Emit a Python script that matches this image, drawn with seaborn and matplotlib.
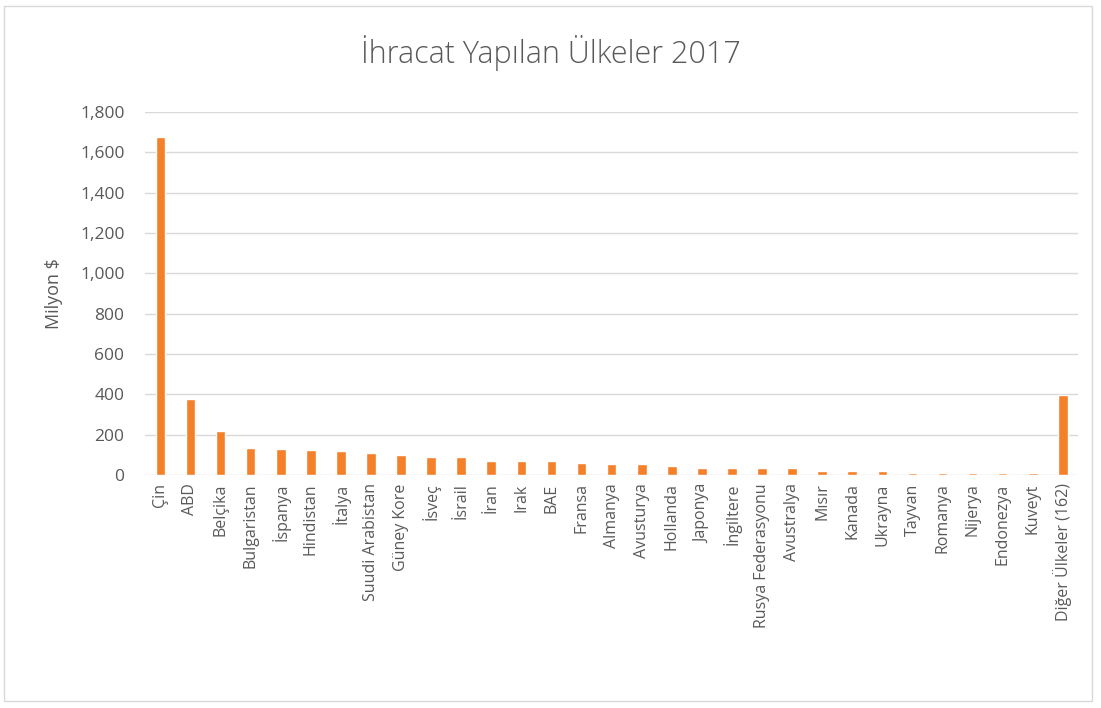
import matplotlib
matplotlib.use("Agg")
import matplotlib.pyplot as plt
import seaborn as sns
import pandas as pd
from matplotlib.patches import Rectangle
from matplotlib.ticker import FuncFormatter

countries = ["Çin", "ABD", "Belçika", "Bulgaristan", "İspanya", "Hindistan", "İtalya",
             "Suudi Arabistan", "Güney Kore", "İsveç", "İsrail", "İran", "Irak", "BAE",
             "Fransa", "Almanya", "Avusturya", "Hollanda", "Japonya", "İngiltere",
             "Rusya Federasyonu", "Avustralya", "Mısır", "Kanada", "Ukrayna", "Tayvan",
             "Romanya", "Nijerya", "Endonezya", "Kuveyt", "Diğer Ülkeler (162)"]
values = [1677, 375, 216, 132, 131, 122, 121, 110, 99, 89, 89, 69, 69, 69,
          58, 57, 56, 43, 33, 33, 33, 33, 21, 21, 21, 11, 11, 11, 11, 11, 395]
yticks = [0, 200, 400, 600, 800, 1000, 1200, 1400, 1600, 1800]

df = pd.DataFrame({"country": countries, "value": values})

sns.set_theme(style="white")
plt.rcParams['font.family'] = ['Open Sans', 'DejaVu Sans']

fig = plt.figure(figsize=(11.01, 7.08), dpi=100)
ax = fig.add_axes([0.132, 0.329, 0.847, 0.513])

sns.barplot(data=df, x="country", y="value", color="#F5802A", width=0.32,
            saturation=1, ax=ax, zorder=3)

ax.set_ylim(0, 1800)
ax.set_yticks(yticks)
ax.yaxis.set_major_formatter(FuncFormatter(lambda v, p: f"{int(v):,}"))
ax.set_xlim(-0.5, len(countries) - 0.5)
ax.grid(axis="y", color="#D9D9D9", linewidth=1, zorder=0)
for s in ax.spines.values():
    s.set_visible(False)
ax.tick_params(axis="both", length=0, colors="#595959")
ax.tick_params(axis="x", pad=6, labelsize=11.5)
ax.tick_params(axis="y", pad=15, labelsize=12.5)
plt.setp(ax.get_xticklabels(), rotation=90)
ax.set_xlabel("")
ax.set_ylabel("Milyon $", color="#595959", fontsize=13, labelpad=12)

fig.text(0.5, 0.925, "İhracat Yapılan Ülkeler 2017", ha="center", va="center",
         fontsize=22, color="#595959", family=["Open Sans", "DejaVu Sans"],
         fontweight="light")

fig.patches.append(Rectangle((0.004, 0.01), 0.988, 0.982, transform=fig.transFigure,
                             fill=False, edgecolor="#D9D9D9", linewidth=1))

fig.savefig("out.png", dpi=100)
